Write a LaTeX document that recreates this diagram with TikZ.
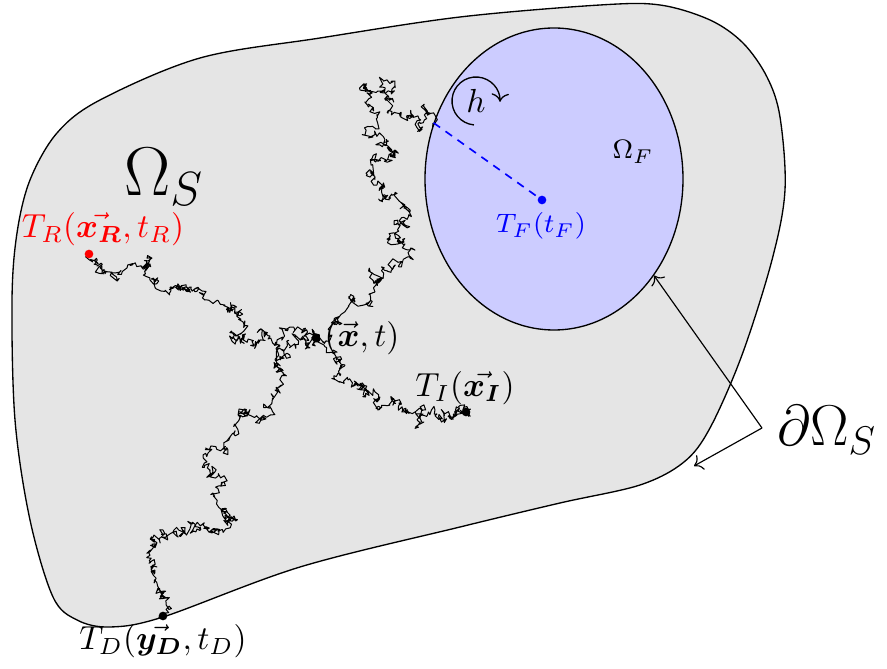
\documentclass[tikz,border=0pt]{standalone}
\usepackage{amsmath,amssymb}
\usetikzlibrary{shapes.geometric,arrows.meta}
\newcommand\wstart[2]{\xdef\wx{#1}\xdef\wy{#2}}
\newcommand\wleg[4]{%
  \xdef\wpath{(\wx,\wy)}%
  \foreach \k in {1,...,#3}{%
    \pgfmathsetmacro\nx{\wx+(#1-\wx)/(#3-\k+1)+#4*rand}%
    \pgfmathsetmacro\ny{\wy+(#2-\wy)/(#3-\k+1)+#4*rand}%
    \xdef\wx{\nx}\xdef\wy{\ny}%
    \xdef\wpath{\wpath -- (\wx,\wy)}%
  }%
  \xdef\wx{#1}\xdef\wy{#2}%
  \xdef\wpath{\wpath -- (\wx,\wy)}%
  \edef\wtmp{\noexpand\draw[walk] \wpath;}\wtmp
}
\newcommand\wlegs[3]{\foreach \a/\b in {#1}{\wleg{\a}{\b}{#2}{#3}}}
\tikzset{
  walk/.style={black, line width=0.3pt, line join=round},
  dot/.style={circle, fill=black, inner sep=0pt, minimum size=2.6pt},
  lab/.style={inner sep=0pt, anchor=center},
  outline/.style={draw=black, line width=0.4pt},
}
\begin{document}
\begin{tikzpicture}[x=0.3pt,y=-0.3pt]
\useasboundingbox (0,0) rectangle (887,669);
\pgfmathsetseed{4242}
% outer domain
\draw[outline, fill=gray!20] plot[smooth cycle, tension=0.55] coordinates {
 (12,300) (17,233) (30,180) (57,133) (100,100) (200,58) (320,38) (460,17)
 (600,5) (660,5) (710,20) (743,43) (767,77) (780,117) (785,190) (772,260)
 (742,355) (710,428) (684,462) (640,485) (560,503) (460,527) (300,567)
 (163,617) (110,627) (77,620) (53,597) (30,520) (15,420)};
% fluid region
\node[ellipse, outline, fill=blue!20, inner sep=0pt, minimum width=77.4pt, minimum height=90.6pt] (Fl) at (554,179) {};
% random walks
\wstart{316}{338}
\wlegs{295/330, 270/336, 255/345, 236/341, 244/325, 232/305, 205/300, 190/290, 170/287, 150/280, 147/265, 127/268, 106/272, 89/254}{22}{4.2}
\wstart{316}{338}
\wlegs{333/350, 345/365, 348/380, 360/385, 375/392, 390/405, 407/410, 420/416, 435/410, 448/416, 458/410, 466/412}{22}{4.2}
\wstart{316}{338}
\wlegs{300/340, 287/343, 277/348, 280/368, 273/397, 263/417, 240/413, 230/437, 208/453, 213/472, 213/493, 225/508, 230/518, 213/533, 200/527, 183/530, 163/530, 153/548, 155/570, 160/592, 163/616}{22}{4.2}
\wstart{316}{338}
\wlegs{335/318, 355/298, 375/292, 380/280, 395/265, 410/250, 390/240, 403/225, 405/205, 385/195, 377/185, 373/160, 395/150, 380/145, 365/135, 368/107, 360/90, 383/80, 390/100, 407/118, 420/128, 433/123}{22}{4.2}
% points
\node[dot, fill=red] (R) at (89,254) {};
\node[dot] (X) at (316,338) {};
\node[dot] (I) at (466,412) {};
\node[dot] (D) at (163,616) {};
\node[dot, fill=blue] (F) at (542,200) {};
\coordinate (Fb) at (Fl.155);
\draw[blue, dashed, line width=0.5pt, dash pattern=on 2.4pt off 2pt] (Fb) -- (F);
% labels
\node[lab, red] (lR) at (103,229) {$T_R(\vec{\boldsymbol{x_R}},t_R)$};
\node[lab] (lX) at (362,338) {$(\vec{\boldsymbol{x}},t)$};
\node[lab] (lI) at (465,388) {$T_I(\vec{\boldsymbol{x_I}})$};
\node[lab] (lD) at (163,641) {$T_D(\vec{\boldsymbol{y_D}},t_D)$};
\node[lab, blue, font=\footnotesize] (lF) at (541,226) {$T_F(t_F)$};
\node[lab, font=\footnotesize] (OF) at (633,152) {$\Omega_F$};
\node[lab, font=\huge] (OS) at (164,177) {$\Omega_S$};
\node[lab, font=\LARGE] (dOS) at (827,430) {$\partial\Omega_S$};
% h rotation
\node[lab] (h) at (476,101) {$h$};
\draw[->, line width=0.4pt] ([shift={(95:24)}]h.center) arc[start angle=95, end angle=362, radius=24];
% boundary arrows
\coordinate (J) at (762,428);
\coordinate (Bd) at (694,466);
\draw[->, line width=0.35pt] (J) -- (Fl.-44);
\draw[->, line width=0.35pt] (J) -- (Bd);
\end{tikzpicture}
\end{document}
